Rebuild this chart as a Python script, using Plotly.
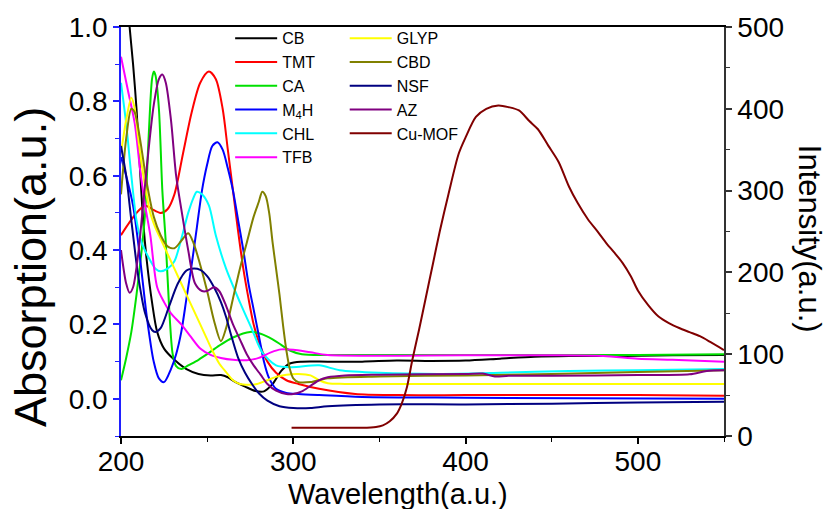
import plotly.graph_objects as go

# ---------------- data ----------------
cb_x = [200, 203, 205, 207, 209, 211, 213, 215, 218, 221, 225, 231, 238, 245, 252, 258, 262, 266, 272, 278, 283, 288, 293, 298, 305, 320, 340, 360, 380, 400, 420, 440, 460, 480, 500, 520, 550]
cb_y = [1.3, 1.12, 1.0, 0.9, 0.78, 0.62, 0.47, 0.37, 0.26, 0.18, 0.135, 0.105, 0.08, 0.067, 0.063, 0.064, 0.058, 0.046, 0.033, 0.021, 0.02, 0.04, 0.075, 0.095, 0.10, 0.10, 0.10, 0.103, 0.102, 0.103, 0.108, 0.113, 0.115, 0.115, 0.116, 0.117, 0.118]

tmt_x = [200, 205, 210, 214, 218, 223, 227, 231, 236, 241, 246, 251, 255, 259, 262, 265, 268, 271, 274, 277, 281, 285, 290, 296, 303, 315, 336, 360, 400, 450, 500, 550]
tmt_y = [0.44, 0.475, 0.505, 0.52, 0.51, 0.50, 0.51, 0.55, 0.66, 0.77, 0.85, 0.88, 0.86, 0.78, 0.67, 0.56, 0.45, 0.35, 0.27, 0.20, 0.14, 0.10, 0.07, 0.05, 0.04, 0.027, 0.013, 0.01, 0.01, 0.01, 0.01, 0.008]

ca_x = [200, 203, 206, 209, 212, 214, 216, 218, 219, 220, 222, 224, 226, 228, 230, 232, 235, 239, 245, 250, 257, 265, 275, 281, 288, 293, 298, 305, 320, 400, 500, 550]
ca_y = [0.05, 0.11, 0.18, 0.28, 0.40, 0.50, 0.70, 0.86, 0.88, 0.87, 0.78, 0.56, 0.42, 0.24, 0.12, 0.088, 0.08, 0.09, 0.105, 0.12, 0.143, 0.165, 0.18, 0.175, 0.16, 0.145, 0.13, 0.12, 0.118, 0.118, 0.118, 0.12]

m4h_x = [200, 203, 207, 211, 215, 219, 222, 225, 229, 232, 235, 238, 241, 244, 247, 250, 253, 256, 259, 262, 265, 268, 271, 274, 277, 280, 283, 286, 290, 296, 303, 315, 340, 400, 550]
m4h_y = [0.65, 0.60, 0.52, 0.38, 0.22, 0.10, 0.055, 0.045, 0.08, 0.12, 0.18, 0.27, 0.36, 0.46, 0.56, 0.63, 0.68, 0.69, 0.67, 0.62, 0.56, 0.48, 0.40, 0.31, 0.24, 0.17, 0.10, 0.055, 0.027, 0.016, 0.013, 0.01, 0.005, 0.003, 0.0]

chl_x = [200, 203, 206, 209, 212, 216, 220, 223, 227, 231, 235, 239, 242, 244, 247, 251, 255, 261, 269, 276, 282, 290, 299, 315, 327, 350, 384, 420, 460, 500, 550]
chl_y = [0.85, 0.74, 0.60, 0.48, 0.42, 0.38, 0.35, 0.343, 0.35, 0.37, 0.43, 0.50, 0.54, 0.557, 0.55, 0.52, 0.44, 0.35, 0.26, 0.187, 0.125, 0.09, 0.085, 0.09, 0.077, 0.07, 0.067, 0.07, 0.075, 0.077, 0.08]

tfb_x = [200, 204, 208, 211, 214, 217, 221, 225, 229, 235, 240, 246, 252, 258, 265, 273, 280, 287, 293, 300, 310, 320, 400, 450, 480, 500, 520, 550]
tfb_y = [0.92, 0.83, 0.74, 0.62, 0.52, 0.44, 0.30, 0.26, 0.23, 0.20, 0.17, 0.135, 0.118, 0.11, 0.105, 0.104, 0.11, 0.125, 0.133, 0.132, 0.125, 0.118, 0.117, 0.117, 0.115, 0.108, 0.105, 0.10]

glyp_x = [200, 203, 206, 208, 210, 213, 217, 220, 223, 227, 231, 236, 241, 246, 250, 253, 257, 261, 265, 269, 274, 279, 285, 290, 296, 303, 310, 315, 320, 330, 550]
glyp_y = [0.66, 0.75, 0.81, 0.78, 0.70, 0.60, 0.50, 0.46, 0.43, 0.39, 0.35, 0.30, 0.25, 0.20, 0.16, 0.13, 0.095, 0.072, 0.05, 0.04, 0.038, 0.04, 0.05, 0.059, 0.065, 0.067, 0.063, 0.05, 0.042, 0.04, 0.04]

cbd_x = [200, 203, 206, 208, 211, 215, 219, 223, 227, 231, 235, 239, 242, 246, 250, 254, 258, 261, 265, 269, 273, 277, 280, 282, 284, 286, 288, 290, 292, 294, 296, 298, 300, 303, 310, 320, 350, 400, 450, 500, 550]
cbd_y = [0.55, 0.70, 0.78, 0.77, 0.70, 0.58, 0.49, 0.44, 0.41, 0.405, 0.425, 0.445, 0.42, 0.36, 0.29, 0.21, 0.155, 0.19, 0.27, 0.35, 0.42, 0.49, 0.53, 0.557, 0.545, 0.50, 0.42, 0.35, 0.28, 0.20, 0.13, 0.08, 0.055, 0.045, 0.045, 0.055, 0.06, 0.063, 0.067, 0.072, 0.077]

nsf_x = [200, 203, 206, 210, 214, 218, 220, 223, 228, 233, 238, 241, 246, 250, 254, 258, 261, 264, 268, 272, 276, 280, 285, 292, 300, 310, 320, 350, 400, 450, 500, 550]
nsf_y = [0.68, 0.60, 0.48, 0.33, 0.23, 0.185, 0.18, 0.19, 0.25, 0.31, 0.345, 0.35, 0.347, 0.33, 0.30, 0.26, 0.22, 0.17, 0.11, 0.07, 0.04, 0.015, -0.005, -0.02, -0.025, -0.025, -0.02, -0.015, -0.015, -0.013, -0.01, -0.008]

az_x = [200, 203, 205, 207, 210, 213, 216, 219, 222, 224, 226, 229, 232, 235, 239, 243, 247, 250, 254, 257, 261, 265, 269, 273, 277, 281, 285, 290, 296, 300, 305, 310, 315, 320, 330, 350, 400, 410, 417, 425, 450, 500, 530, 540, 550]
az_y = [0.40, 0.31, 0.285, 0.30, 0.39, 0.53, 0.67, 0.79, 0.86, 0.872, 0.85, 0.75, 0.60, 0.51, 0.40, 0.31, 0.29, 0.29, 0.30, 0.29, 0.25, 0.20, 0.16, 0.12, 0.09, 0.065, 0.04, 0.022, 0.013, 0.013, 0.02, 0.035, 0.05, 0.058, 0.063, 0.065, 0.067, 0.068, 0.06, 0.062, 0.062, 0.064, 0.066, 0.075, 0.077]

mof_x = [299, 310, 320, 330, 340, 348, 352, 356, 360, 363, 366, 369, 373, 377, 381, 385, 390, 396, 400, 406, 412, 419, 425, 431, 437, 442, 448, 454, 460, 465, 471, 477, 482, 486, 491, 496, 500, 506, 512, 518, 524, 530, 536, 542, 550]
mof_y = [10, 10, 10, 10, 10, 11, 13, 18, 27, 40, 60, 92, 130, 170, 210, 250, 295, 345, 365, 390, 400, 404, 402, 398, 385, 375, 355, 335, 305, 285, 265, 249, 235, 225, 212, 195, 178, 160, 146, 138, 132, 127, 122, 115, 105]

series = [
    ("CB", cb_x, cb_y, "#000000", "y", "legend"),
    ("TMT", tmt_x, tmt_y, "#FF0000", "y", "legend"),
    ("CA", ca_x, ca_y, "#00E000", "y", "legend"),
    ("M<sub>4</sub>H", m4h_x, m4h_y, "#0000FF", "y", "legend"),
    ("CHL", chl_x, chl_y, "#00FFFF", "y", "legend"),
    ("TFB", tfb_x, tfb_y, "#FF00FF", "y", "legend"),
    ("GLYP", glyp_x, glyp_y, "#FFFF00", "y", "legend2"),
    ("CBD", cbd_x, cbd_y, "#808000", "y", "legend2"),
    ("NSF", nsf_x, nsf_y, "#000080", "y", "legend2"),
    ("AZ", az_x, az_y, "#800080", "y", "legend2"),
    ("Cu-MOF", mof_x, mof_y, "#800000", "y2", "legend2"),
]

fig = go.Figure()
for name, xs, ys, col, yax, leg in series:
    fig.add_trace(go.Scatter(
        x=xs, y=ys, name=name, mode="lines", yaxis=yax, legend=leg,
        line=dict(color=col, width=2, shape="spline", smoothing=0.8),
    ))

FONT = "Liberation Sans, Arial, sans-serif"
TICKFONT = dict(size=28, family=FONT, color="black")
LEGFONT = dict(size=16, family=FONT, color="black")
fig.update_layout(
    width=829, height=509,
    margin=dict(l=121, r=105, t=22, b=73),
    plot_bgcolor="white", paper_bgcolor="white",
    font=dict(family=FONT, color="black"),
    showlegend=True,
    xaxis=dict(
        range=[200, 550], tickmode="array", tickvals=[200, 300, 400, 500],
        ticks="outside", ticklen=6, tickwidth=1.5, tickcolor="black",
        minor=dict(dtick=50, tick0=200, ticks="outside", ticklen=4, tickcolor="black", tickwidth=1.2),
        showline=True, linecolor="black", linewidth=1.5, mirror=True,
        showgrid=False, zeroline=False, ticklabelstandoff=-6,
        tickfont=TICKFONT,
    ),
    yaxis=dict(
        range=[-0.1, 1.0], tickmode="array", tickvals=[0.0, 0.2, 0.4, 0.6, 0.8, 1.0],
        tickformat=".1f",
        ticks="outside", ticklen=6, tickwidth=1.5, tickcolor="#2020FF",
        minor=dict(dtick=0.1, tick0=0, ticks="outside", ticklen=4, tickcolor="#2020FF", tickwidth=1.2),
        showline=True, linecolor="#2020FF", linewidth=1.5,
        showgrid=False, zeroline=False,
        tickfont=TICKFONT,
    ),
    yaxis2=dict(
        overlaying="y", side="right", anchor="x",
        range=[0, 500], tickmode="array", tickvals=[0, 100, 200, 300, 400, 500],
        ticks="outside", ticklen=6, tickwidth=1.5, tickcolor="#333333",
        minor=dict(dtick=50, tick0=0, ticks="outside", ticklen=4, tickcolor="#333333", tickwidth=1.2),
        showline=True, linecolor="#333333", linewidth=1.5,
        showgrid=False, zeroline=False,
        tickfont=TICKFONT,
    ),
    legend=dict(x=0.181, y=1.014, xanchor="left", yanchor="top", itemwidth=42,
                bgcolor="rgba(0,0,0,0)", font=LEGFONT, tracegroupgap=0),
    legend2=dict(x=0.371, y=1.014, xanchor="left", yanchor="top", itemwidth=42,
                 bgcolor="rgba(0,0,0,0)", font=LEGFONT, tracegroupgap=0),
    annotations=[
        dict(text="Absorption(a.u.)", xref="paper", yref="paper", x=-0.151, y=0.413,
             xanchor="center", yanchor="middle",
             textangle=-90, showarrow=False, font=dict(size=45, family=FONT, color="black")),
        dict(text="Wavelength(a.u.)", xref="paper", yref="paper", x=0.459, y=-0.1425,
             xanchor="center", yanchor="middle",
             showarrow=False, font=dict(size=29, family=FONT, color="black")),
        dict(text="Intensity(a.u.)", xref="paper", yref="paper", x=1.142, y=0.483,
             xanchor="center", yanchor="middle",
             textangle=90, showarrow=False, font=dict(size=31, family=FONT, color="black")),
    ],
)

fig.write_html("out.html")
